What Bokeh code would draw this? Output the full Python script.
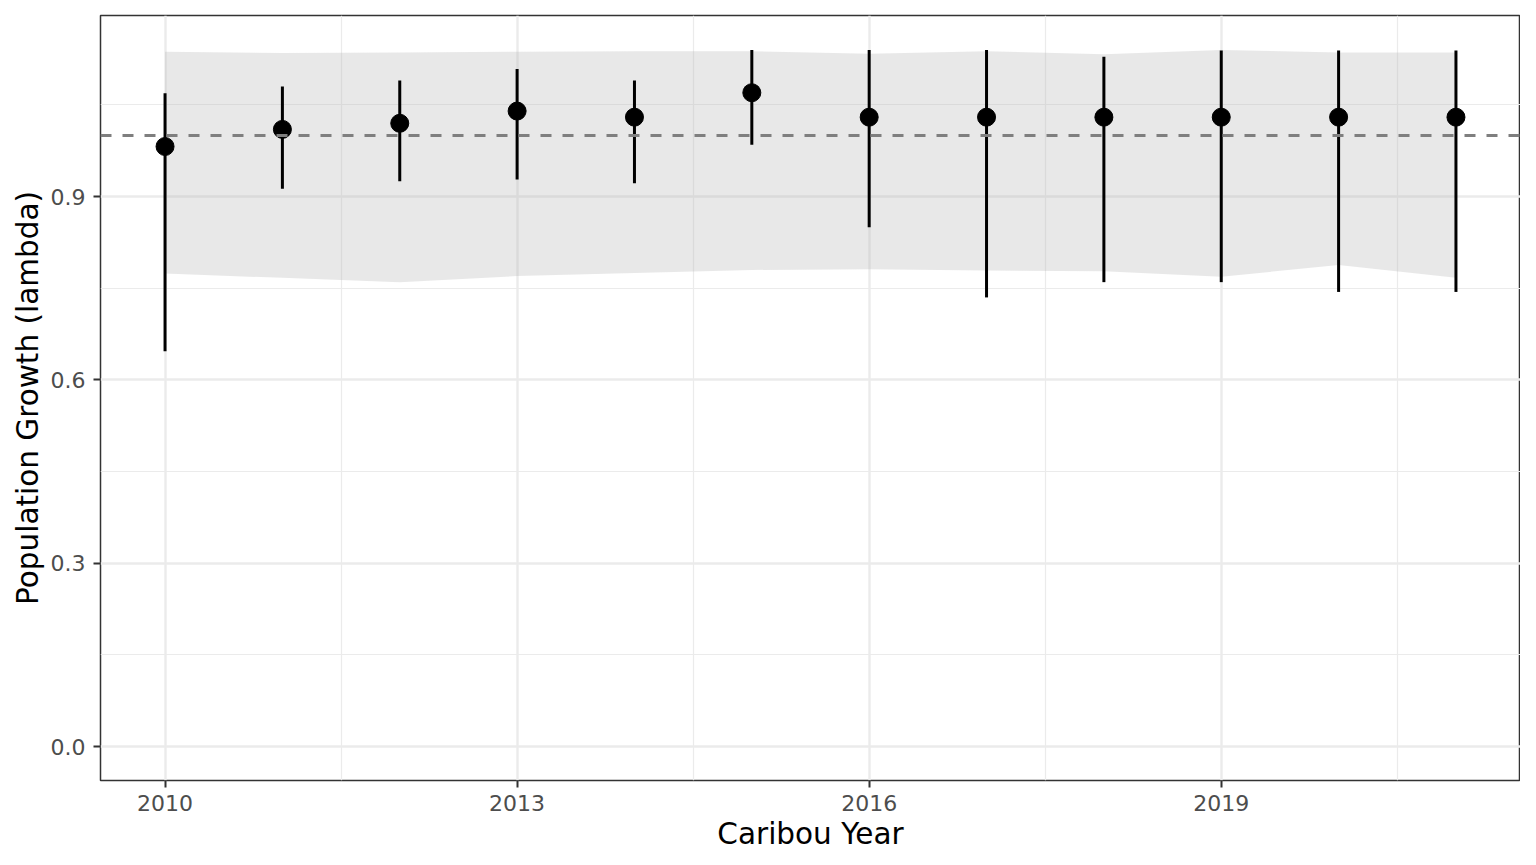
from bokeh.plotting import figure
from bokeh.models import Range1d, FixedTicker, PrintfTickFormatter, Span
from bokeh.embed import file_html
from bokeh.resources import INLINE

years = [2010, 2011, 2012, 2013, 2014, 2015, 2016, 2017, 2018, 2019, 2020, 2021]
lam = [0.982, 1.010, 1.020, 1.040, 1.030, 1.070, 1.030, 1.030, 1.030, 1.030, 1.030, 1.030]
lam_lo = [0.647, 0.913, 0.925, 0.928, 0.922, 0.985, 0.850, 0.735, 0.760, 0.760, 0.744, 0.744]
lam_hi = [1.069, 1.080, 1.090, 1.109, 1.090, 1.140, 1.140, 1.140, 1.129, 1.139, 1.139, 1.139]
rib_lo = [0.774, 0.767, 0.760, 0.770, 0.775, 0.780, 0.781, 0.779, 0.778, 0.769, 0.788, 0.767]
rib_hi = [1.137, 1.135, 1.136, 1.137, 1.138, 1.138, 1.134, 1.138, 1.133, 1.140, 1.136, 1.136]
x_ticks = [2010, 2013, 2016, 2019]
x_minor = [2011.5, 2014.5, 2017.5, 2020.5]
y_ticks = [0.0, 0.3, 0.6, 0.9]
y_minor = [0.15, 0.45, 0.75, 1.05]
x_label = "Caribou Year"
y_label = "Population Growth (lambda)"

p = figure(width=1520, height=856, output_backend="svg", toolbar_location=None,
           x_range=Range1d(2009.45, 2021.55), y_range=Range1d(-0.0556, 1.1964),
           min_border_left=100, min_border_right=0, min_border_top=15, min_border_bottom=76,
           background_fill_color="white", border_fill_color="white")

p.outline_line_color = "#333333"
p.outline_line_width = 1.5

# grids
p.xgrid.ticker = FixedTicker(ticks=x_ticks, minor_ticks=x_minor)
p.ygrid.ticker = FixedTicker(ticks=y_ticks, minor_ticks=y_minor)
for g in (p.xgrid, p.ygrid):
    g.grid_line_color = "#EBEBEB"
    g.grid_line_width = 2.4
    g.minor_grid_line_color = "#EBEBEB"
    g.minor_grid_line_width = 1.2

# axes
p.xaxis.ticker = FixedTicker(ticks=x_ticks)
p.yaxis.ticker = FixedTicker(ticks=y_ticks)
p.xaxis.formatter = PrintfTickFormatter(format="%d")
p.yaxis.formatter = PrintfTickFormatter(format="%.1f")
p.xaxis.axis_label = x_label
p.yaxis.axis_label = y_label
for ax in (p.xaxis, p.yaxis):
    ax.axis_line_color = None
    ax.major_tick_in = 0
    ax.major_tick_out = 7
    ax.major_tick_line_color = "#333333"
    ax.major_tick_line_width = 2
    ax.minor_tick_line_color = None
    ax.major_label_text_font = "DejaVu Sans"
    ax.major_label_text_font_size = "22px"
    ax.major_label_text_color = "#4D4D4D"
    ax.axis_label_text_font = "DejaVu Sans"
    ax.axis_label_text_font_size = "29.5px"
    ax.axis_label_text_font_style = "normal"
    ax.axis_label_text_color = "black"
p.yaxis.major_label_standoff = 8
p.xaxis.major_label_standoff = 7
p.xaxis.axis_label_standoff = 3
p.yaxis.axis_label_standoff = 3

# ribbon
p.varea(x=years, y1=rib_lo, y2=rib_hi, fill_color="#B3B3B3", fill_alpha=0.3)

# reference line
p.add_layout(Span(location=1.0, dimension="width", line_color="#7F7F7F",
                  line_width=3, line_dash="11 11", level="glyph"))

# error bars and points
p.segment(x0=years, y0=lam_lo, x1=years, y1=lam_hi, line_color="black", line_width=3)
p.scatter(x=years, y=lam, size=18, fill_color="black", line_color="black")

open("out.html", "w").write(file_html(p, INLINE))
